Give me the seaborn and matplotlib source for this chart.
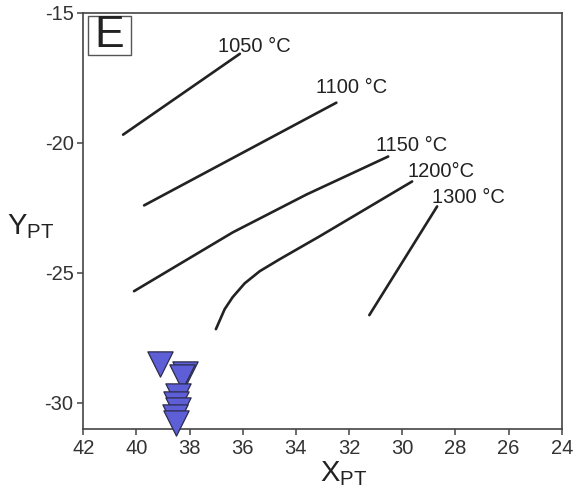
import matplotlib
matplotlib.use("Agg")
import matplotlib.pyplot as plt
import matplotlib.patches as mpatches
import seaborn as sns
import pandas as pd

# Isotherm lines (X_PT, Y_PT)
iso_1050_x = [40.50, 36.11]
iso_1050_y = [-19.68, -16.57]
iso_1100_x = [39.71, 32.48]
iso_1100_y = [-22.40, -18.45]
iso_1150_x = [40.09, 36.38, 33.60, 30.53]
iso_1150_y = [-25.70, -23.44, -21.98, -20.52]
iso_1200_x = [37.01, 36.68, 36.38, 35.93, 35.36, 34.61, 33.11, 29.63]
iso_1200_y = [-27.16, -26.39, -25.93, -25.40, -24.93, -24.47, -23.59, -21.48]
iso_1300_x = [31.24, 28.69]
iso_1300_y = [-26.62, -22.44]

iso_labels = ["1050 °C", "1100 °C", "1150 °C", "1200°C", "1300 °C"]
label_x = [36.94, 33.23, 30.98, 29.81, 28.88]
label_y = [-16.50, -18.07, -20.29, -21.29, -22.29]

# Samples (downward triangles)
sample_x = [39.11, 38.18, 38.29, 38.44, 38.51, 38.44, 38.55, 38.51]
sample_y = [-28.50, -28.89, -29.00, -29.73, -30.04, -30.27, -30.54, -30.77]

x_ticks = [42, 40, 38, 36, 34, 32, 30, 28, 26, 24]
y_ticks = [-15, -20, -25, -30]

sns.set_style("ticks")
plt.rcParams["font.family"] = ["Liberation Sans", "DejaVu Sans"]
plt.rcParams["mathtext.fontset"] = "custom"
plt.rcParams["mathtext.rm"] = "Liberation Sans"
plt.rcParams["mathtext.it"] = "Liberation Sans"
plt.rcParams["axes.unicode_minus"] = False

fig = plt.figure(figsize=(5.78, 4.90), dpi=100)
ax = fig.add_axes([0.144, 0.1245, 0.828, 0.849])

lines = [
    (iso_1050_x, iso_1050_y), (iso_1100_x, iso_1100_y), (iso_1150_x, iso_1150_y),
    (iso_1200_x, iso_1200_y), (iso_1300_x, iso_1300_y),
]
for xs, ys in lines:
    df = pd.DataFrame({"x": xs, "y": ys})
    sns.lineplot(data=df, x="x", y="y", sort=False, color="#222222", lw=1.9,
                 ax=ax, legend=False)

for t, lx, ly in zip(iso_labels, label_x, label_y):
    ax.text(lx, ly, t, fontsize=14.5, ha="left", va="baseline", color="#222222")

sdf = pd.DataFrame({"x": sample_x, "y": sample_y})
sns.scatterplot(data=sdf, x="x", y="y", marker="v", s=330, color="#5E5ED6",
                edgecolor="#2b2b4a", linewidth=0.9, ax=ax, legend=False, zorder=5,
                clip_on=False)

ax.set_xlim(42, 24)
ax.set_ylim(-31, -15)
ax.set_xticks(x_ticks)
ax.set_yticks(y_ticks)
ax.tick_params(axis="both", labelsize=14.5, length=4, width=1.1, color="#444444",
               labelcolor="#333333", direction="out", pad=3)
for sp in ax.spines.values():
    sp.set_color("#444444")
    sp.set_linewidth(1.2)

ax.set_xlabel(r"X$_{\mathrm{PT}}$", fontsize=21, color="#222222", labelpad=0)
ax.xaxis.set_label_coords(0.545, -0.072)
ax.xaxis.label.set_va("top")
ax.set_ylabel(r"Y$_{\mathrm{PT}}$", fontsize=21, color="#222222", rotation=0,
              va="center", ha="left")
ax.yaxis.set_label_coords(-0.159, 0.486)

ax.add_patch(mpatches.Rectangle((0.0104, 0.899), 0.0896, 0.094, transform=ax.transAxes,
                                fill=True, fc="white", ec="#555555", lw=1.0, zorder=6))
ax.text(0.055, 0.945, "E", transform=ax.transAxes, fontsize=32, ha="center",
        va="center", color="#222222", zorder=7)

fig.savefig("out.png", dpi=100)
